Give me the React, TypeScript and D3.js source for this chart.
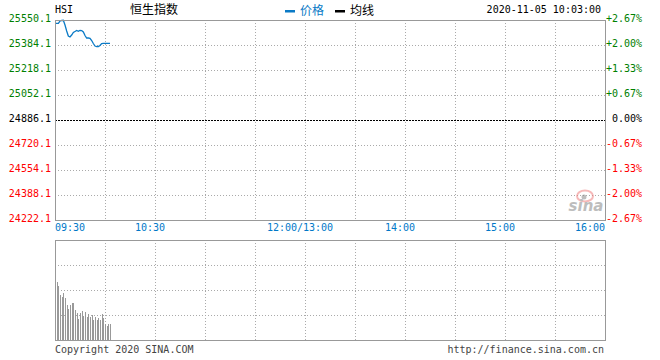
import { useEffect, useRef } from "react";
import * as d3 from "d3";

const times = [
  "09:30", "09:31", "09:32", "09:33", "09:34", "09:35", "09:36", "09:37", "09:38", "09:39",
  "09:40", "09:41", "09:42", "09:43", "09:44", "09:45", "09:46", "09:47", "09:48", "09:49",
  "09:50", "09:51", "09:52", "09:53", "09:54", "09:55", "09:56", "09:57", "09:58", "09:59",
  "10:00", "10:01", "10:02", "10:03",
];
const prices = [
  25528.2, 25528.2, 25528.2, 25543.5, 25546.8, 25548.1, 25516.9, 25477.1, 25443.9, 25437.2,
  25450.5, 25467.1, 25473.7, 25480.4, 25475.1, 25481.7, 25480.4, 25470.4, 25447.2, 25430.6,
  25430.6, 25428.6, 25414.0, 25394.1, 25377.5, 25372.8, 25374.1, 25380.8, 25394.1, 25395.4,
  25395.4, 25395.4, 25395.4, 25395.4,
];
const volumes = [
  60, 58, 54, 45, 43, 47, 42, 35, 31, 35,
  37, 37, 30, 27, 21, 27, 29, 24, 28, 23,
  26, 23, 25, 20, 23, 20, 22, 20, 26, 22,
  16, 14, 16, 16,
];
const prevClose = 24886.1;
const priceTicks = [24222.1, 24388.1, 24554.1, 24720.1, 24886.1, 25052.1, 25218.1, 25384.1, 25550.1];
const pctLabels = ["-2.67%", "-2.00%", "-1.33%", "-0.67%", "0.00%", "+0.67%", "+1.33%", "+2.00%", "+2.67%"];
const timeTicks = ["09:30", "10:30", "12:00/13:00", "14:00", "15:00", "16:00"];
const timeTickMinutes = [0, 60, 150, 210, 270, 330];

const W = 660;
const H = 360;
const mono = "'DejaVu Sans Mono', monospace";
const cjk = "'Noto Sans CJK SC', sans-serif";

// minutes since 09:30, lunch break removed
function tradeMinute(t: string) {
  const [h, m] = t.split(":").map(Number);
  const mins = h * 60 + m - (9 * 60 + 30);
  return mins > 150 ? mins - 60 : mins;
}

function colorFor(v: number) {
  if (Math.abs(v - prevClose) < 0.01) return "#000";
  return v > prevClose ? "#008000" : "#ff0000";
}

export default function App() {
  const svgRef = useRef<SVGSVGElement | null>(null);

  useEffect(() => {
    const svg = d3.select(svgRef.current);
    svg.selectAll("*").remove();

    const left = 55, right = 605;
    const top = 20, bottom = 220;
    const vTop = 240, vBottom = 340;

    const x = d3.scaleLinear().domain([0, 330]).range([left, right]);
    const y = d3.scaleLinear().domain([priceTicks[0], priceTicks[priceTicks.length - 1]]).range([bottom, top]);
    const yv = d3.scaleLinear().domain([0, 100]).range([vBottom, vTop]);

    const gridMinutes = d3.range(30, 330, 30);

    // dotted grid in both panels
    const grid = svg.append("g").attr("stroke", "#aaa").attr("stroke-dasharray", "1,2").attr("shape-rendering", "crispEdges");
    gridMinutes.forEach((m) => {
      const xx = Math.round(x(m)) + 0.5;
      grid.append("line").attr("x1", xx).attr("x2", xx).attr("y1", top).attr("y2", bottom);
      grid.append("line").attr("x1", xx).attr("x2", xx).attr("y1", vTop).attr("y2", vBottom);
    });
    priceTicks.slice(1, -1).forEach((p) => {
      if (p === prevClose) return;
      const yy = Math.round(y(p)) + 0.5;
      grid.append("line").attr("x1", left).attr("x2", right).attr("y1", yy).attr("y2", yy);
    });
    [25, 50, 75].forEach((v) => {
      const yy = Math.round(yv(v)) + 0.5;
      grid.append("line").attr("x1", left).attr("x2", right).attr("y1", yy).attr("y2", yy);
    });

    // previous close line
    svg.append("line")
      .attr("x1", left).attr("x2", right)
      .attr("y1", Math.round(y(prevClose)) + 0.5).attr("y2", Math.round(y(prevClose)) + 0.5)
      .attr("stroke", "#000").attr("stroke-dasharray", "2,1").attr("shape-rendering", "crispEdges");

    // sina watermark
    const wm = svg.append("g").attr("opacity", 0.55);
    wm.append("ellipse").attr("cx", 585).attr("cy", 196).attr("rx", 8).attr("ry", 5.5)
      .attr("fill", "none").attr("stroke", "#f08080").attr("stroke-width", 2);
    wm.append("circle").attr("cx", 584).attr("cy", 197).attr("r", 2.5).attr("fill", "#888");
    wm.append("text").attr("x", 586).attr("y", 211).attr("text-anchor", "middle")
      .attr("font-family", "'DejaVu Sans', sans-serif").attr("font-size", 15).attr("font-weight", "bold")
      .attr("font-style", "italic").attr("fill", "#888").text("sina");

    // volume bars
    svg.append("g").selectAll("rect").data(times).join("rect")
      .attr("x", (t) => Math.round(x(tradeMinute(t))))
      .attr("width", 1)
      .attr("y", (_, i) => yv(volumes[i]))
      .attr("height", (_, i) => vBottom - yv(volumes[i]))
      .attr("fill", "#999")
      .attr("shape-rendering", "crispEdges");

    // price line
    const line = d3.line<string>()
      .x((t) => x(tradeMinute(t)))
      .y((_, i) => y(prices[i]));
    svg.append("path").datum(times).attr("d", line)
      .attr("fill", "none").attr("stroke", "#0a7ac6").attr("stroke-width", 1.3);

    // frames
    svg.append("path")
      .attr("d", `M${left + 0.5},${top + 0.5}H${right + 0.5}V${bottom + 0.5}H${left + 0.5}Z`)
      .attr("fill", "none").attr("stroke", "#999").attr("shape-rendering", "crispEdges");
    svg.append("path")
      .attr("d", `M${left + 0.5},${vTop + 0.5}H${right + 0.5}V${vBottom + 0.5}H${left + 0.5}Z`)
      .attr("fill", "none").attr("stroke", "#999").attr("shape-rendering", "crispEdges");

    // price labels
    const labels = svg.append("g").attr("font-family", mono).attr("font-size", 10);
    priceTicks.forEach((p, i) => {
      labels.append("text").attr("x", 51).attr("y", y(p) + 1.5).attr("text-anchor", "end")
        .attr("fill", colorFor(p)).text(p.toFixed(1));
      labels.append("text").attr("x", 642).attr("y", y(p) + 1.5).attr("text-anchor", "end")
        .attr("fill", colorFor(p)).text(pctLabels[i]);
    });

    // time labels
    timeTicks.forEach((t, i) => {
      const last = i === timeTicks.length - 1;
      labels.append("text")
        .attr("x", i === 0 ? left : last ? right : x(timeTickMinutes[i]) - 5)
        .attr("y", 231)
        .attr("text-anchor", i === 0 ? "start" : last ? "end" : "middle")
        .attr("fill", "#0078c8").text(t);
    });

    // header
    labels.append("text").attr("x", 55).attr("y", 13).attr("fill", "#000").text("HSI");
    svg.append("text").attr("x", 154).attr("y", 14).attr("text-anchor", "middle")
      .attr("font-family", cjk).attr("font-size", 12).attr("fill", "#000").text("恒生指数");
    svg.append("rect").attr("x", 285).attr("y", 10).attr("width", 10).attr("height", 2.5).attr("fill", "#0a7ac6");
    svg.append("text").attr("x", 300).attr("y", 15).attr("font-family", cjk).attr("font-size", 12)
      .attr("fill", "#0a7ac6").text("价格");
    svg.append("rect").attr("x", 335).attr("y", 10).attr("width", 10).attr("height", 2.5).attr("fill", "#000");
    svg.append("text").attr("x", 350).attr("y", 15).attr("font-family", cjk).attr("font-size", 12)
      .attr("fill", "#000").text("均线");
    labels.append("text").attr("x", 601).attr("y", 12.5).attr("text-anchor", "end")
      .attr("fill", "#000").text("2020-11-05 10:03:00");

    // footer
    labels.append("text").attr("x", 55).attr("y", 353).attr("fill", "#444").text("Copyright 2020 SINA.COM");
    labels.append("text").attr("x", 604).attr("y", 353).attr("text-anchor", "end")
      .attr("fill", "#444").text("http://finance.sina.com.cn");
  }, []);

  return (
    <div style={{ position: "absolute", left: 0, top: 0, width: W, height: H, background: "#fff" }}>
      <svg ref={svgRef} width={W} height={H} />
    </div>
  );
}
